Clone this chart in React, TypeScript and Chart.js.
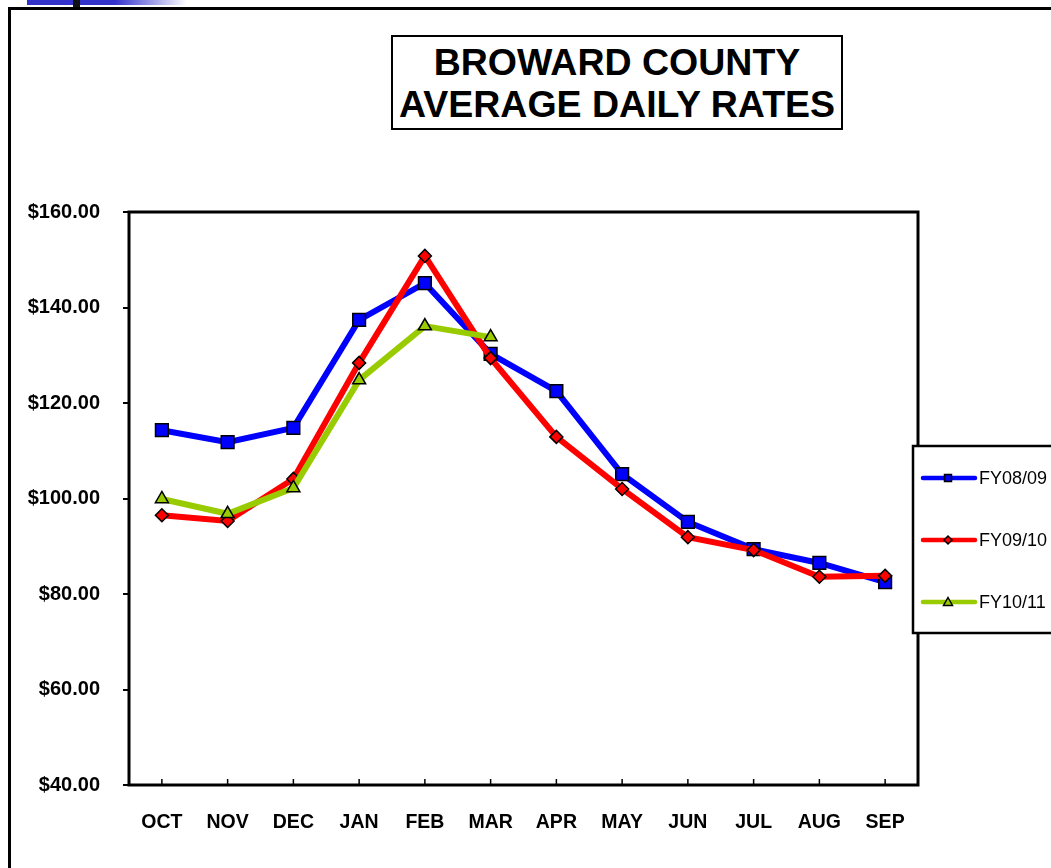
import React, { useEffect, useRef } from "react";
import { Chart, registerables } from "chart.js";

Chart.register(...registerables);

const months = ["OCT", "NOV", "DEC", "JAN", "FEB", "MAR", "APR", "MAY", "JUN", "JUL", "AUG", "SEP"];
const fy0809 = [114.3, 111.8, 114.8, 137.4, 145.1, 130.3, 122.5, 105.1, 95.1, 89.4, 86.5, 82.5];
const fy0910 = [96.5, 95.3, 104.1, 128.4, 150.8, 129.4, 112.9, 102.0, 91.9, 89.2, 83.6, 83.8];
const fy1011 = [99.9, 96.8, 102.2, 124.8, 136.1, 133.8];
const seriesNames = ["FY08/09", "FY09/10", "FY10/11"];
const yMin = 40;
const yMax = 160;
const yStep = 20;
const titleLines = ["BROWARD COUNTY", "AVERAGE DAILY RATES"];

const FONT = "'Liberation Sans', Arial, sans-serif";

const framePlugin = {
  id: "framePlugin",
  afterDatasetsDraw(chart: any) {
    const { ctx, chartArea, scales } = chart;
    ctx.save();
    // inward x tick marks
    ctx.strokeStyle = "#000";
    ctx.lineWidth = 1.5;
    const xs = scales.x;
    for (let i = 0; i < months.length; i++) {
      const px = xs.getPixelForValue(i);
      ctx.beginPath();
      ctx.moveTo(px, chartArea.bottom);
      ctx.lineTo(px, chartArea.bottom - 6);
      ctx.stroke();
    }
    // plot border
    ctx.lineWidth = 3;
    ctx.strokeRect(chartArea.left, chartArea.top, chartArea.right - chartArea.left, chartArea.bottom - chartArea.top);

    // legend
    const lx = 913, ly = 446, lw = 150, lh = 187;
    ctx.fillStyle = "#fff";
    ctx.fillRect(lx, ly, lw, lh);
    ctx.lineWidth = 2.5;
    ctx.strokeRect(lx, ly, lw, lh);
    const rows = [478, 540, 602];
    chart.data.datasets.forEach((ds: any, i: number) => {
      const y = rows[i];
      ctx.strokeStyle = ds.borderColor;
      ctx.lineWidth = 4.5;
      ctx.lineCap = "round";
      ctx.beginPath();
      ctx.moveTo(923, y);
      ctx.lineTo(975, y);
      ctx.stroke();
      ctx.lineCap = "butt";
      ctx.fillStyle = ds.pointBackgroundColor;
      ctx.strokeStyle = "#000";
      ctx.lineWidth = 1.5;
      ctx.beginPath();
      const cx = 948;
      if (ds.pointStyle === "rect") {
        ctx.rect(cx - 3.5, y - 3.5, 7, 7);
      } else if (ds.pointStyle === "rectRot") {
        ctx.moveTo(cx, y - 4);
        ctx.lineTo(cx + 4, y);
        ctx.lineTo(cx, y + 4);
        ctx.lineTo(cx - 4, y);
        ctx.closePath();
      } else {
        ctx.moveTo(cx, y - 4.5);
        ctx.lineTo(cx + 4.5, y + 3.5);
        ctx.lineTo(cx - 4.5, y + 3.5);
        ctx.closePath();
      }
      ctx.fill();
      ctx.stroke();
      ctx.fillStyle = "#000";
      ctx.font = `18px ${FONT}`;
      ctx.textBaseline = "middle";
      ctx.textAlign = "left";
      ctx.fillText(ds.label, 979, y + 1);
    });
    ctx.restore();
  },
};

export default function App() {
  const ref = useRef<HTMLCanvasElement | null>(null);

  useEffect(() => {
    if (!ref.current) return;
    const chart = new Chart(ref.current, {
      type: "line",
      data: {
        labels: months,
        datasets: [
          {
            label: seriesNames[0],
            data: fy0809,
            borderColor: "#0000FF",
            backgroundColor: "#0000FF",
            pointBackgroundColor: "#0000FF",
            pointBorderColor: "#000",
            pointBorderWidth: 1.5,
            pointStyle: "rect",
            pointRadius: 9,
            borderWidth: 6,
            tension: 0,
            order: 3,
          },
          {
            label: seriesNames[1],
            data: fy0910,
            borderColor: "#FF0000",
            backgroundColor: "#FF0000",
            pointBackgroundColor: "#FF0000",
            pointBorderColor: "#000",
            pointBorderWidth: 1.5,
            pointStyle: "rectRot",
            pointRadius: 6.5,
            borderWidth: 6,
            tension: 0,
            order: 2,
          },
          {
            label: seriesNames[2],
            data: fy1011,
            borderColor: "#99CC00",
            backgroundColor: "#99CC00",
            pointBackgroundColor: "#99CC00",
            pointBorderColor: "#000",
            pointBorderWidth: 1.5,
            pointStyle: "triangle",
            pointRadius: 7.5,
            borderWidth: 6,
            tension: 0,
            order: 1,
          },
        ],
      },
      options: {
        responsive: false,
        animation: false,
        layout: { padding: { left: 0, top: 212, right: 133, bottom: 0 } },
        plugins: {
          legend: { display: false },
          title: { display: false },
          tooltip: { enabled: false },
        },
        scales: {
          x: {
            offset: true,
            grid: { display: false, drawTicks: false },
            border: { display: false },
            ticks: {
              color: "#000",
              font: { family: FONT, size: 19.5, weight: "bold" },
              padding: 26,
              maxRotation: 0,
              autoSkip: false,
            },
            afterFit: (s: any) => {
              s.height = 83;
            },
          },
          y: {
            min: yMin,
            max: yMax,
            grid: {
              drawOnChartArea: false,
              drawTicks: true,
              tickLength: 6,
              color: "#000",
              lineWidth: 2,
            },
            border: { display: false },
            ticks: {
              stepSize: yStep,
              color: "#000",
              font: { family: FONT, size: 20, weight: "bold" },
              padding: 23,
              callback: (v: any) => "$" + Number(v).toFixed(2),
            },
            afterFit: (s: any) => {
              s.width = 129;
            },
          },
        },
      },
      plugins: [framePlugin],
    });
    return () => chart.destroy();
  }, []);

  return (
    <div style={{ position: "fixed", left: 0, top: 0, width: 1051, height: 868, background: "#fff", overflow: "hidden" }}>
      <div
        style={{
          position: "absolute",
          left: 27,
          top: 0,
          width: 160,
          height: 5,
          background: "linear-gradient(to right, #3333CC 0%, #3333CC 55%, #ffffff 100%)",
        }}
      />
      <div style={{ position: "absolute", left: 73, top: 0, width: 7, height: 9, background: "#111" }} />
      <div style={{ position: "absolute", left: 8, top: 7, width: 1100, height: 3, background: "#000" }} />
      <div style={{ position: "absolute", left: 8, top: 7, width: 3, height: 900, background: "#000" }} />
      <canvas ref={ref} width={1051} height={868} style={{ position: "absolute", left: 0, top: 0, width: 1051, height: 868 }} />
      <div
        style={{
          position: "absolute",
          left: 391,
          top: 35,
          width: 448,
          height: 91,
          border: "2.5px solid #000",
          background: "#fff",
          fontFamily: FONT,
          fontWeight: "bold",
          fontSize: 37.5,
          lineHeight: "42px",
          textAlign: "center",
          color: "#000",
          display: "flex",
          flexDirection: "column",
          justifyContent: "center",
          whiteSpace: "nowrap",
        }}
      >
        {titleLines.map((t) => (
          <div key={t}>{t}</div>
        ))}
      </div>
    </div>
  );
}
